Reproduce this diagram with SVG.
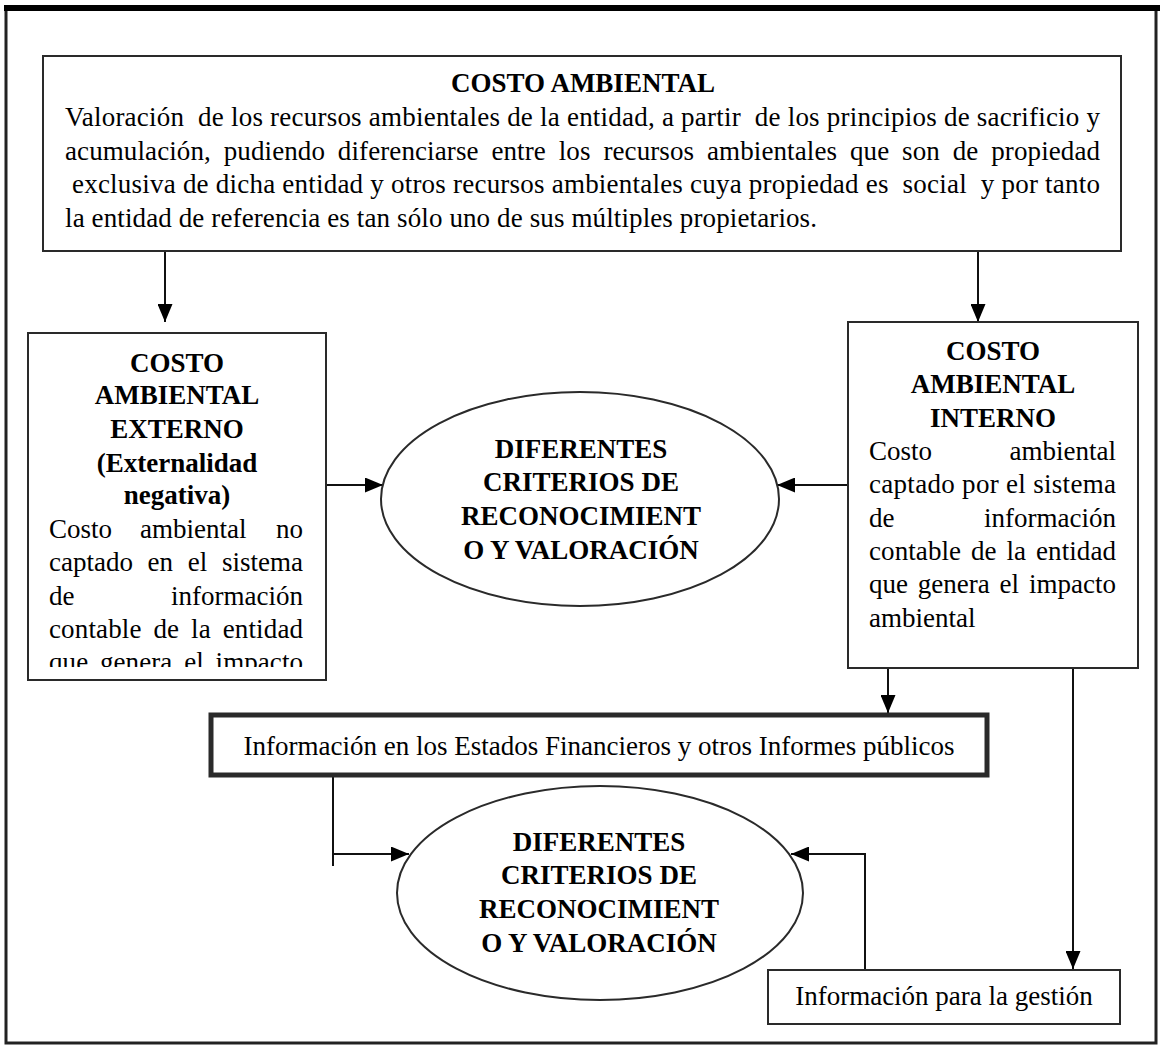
<svg xmlns="http://www.w3.org/2000/svg" width="1160" height="1048" viewBox="0 0 1160 1048">
<style>
.box{fill:#fff;stroke:#2a2a2a;stroke-width:2}
.thick{fill:#fff;stroke:#2a2a2a;stroke-width:5}
.ell{fill:#fff;stroke:#2a2a2a;stroke-width:2}
.t{font-family:"Liberation Serif","Times New Roman",serif;font-size:27px;fill:#000}
.b{font-weight:bold}
.c{text-anchor:middle}
.e{text-anchor:end}
.con{fill:none;stroke:#111;stroke-width:2}
</style>
<defs>
<marker id="ah" viewBox="0 0 18 15" refX="18" refY="7.5" markerWidth="18" markerHeight="15" orient="auto" markerUnits="userSpaceOnUse">
<path d="M0,0 L18,7.5 L0,15 z" fill="#000"/>
</marker>
<clipPath id="clipL"><rect x="28" y="333" width="298" height="334"/></clipPath>
</defs>
<rect width="1160" height="1048" fill="#fff"/>
<g id="frame">
<rect x="6" y="9" width="1150" height="1034" fill="none" stroke="#222" stroke-width="3"/>
<line x1="4" y1="8" x2="1160" y2="8" stroke="#000" stroke-width="6"/>
</g>
<g id="connectors">
<path class="con" d="M165,252 V322" marker-end="url(#ah)"/>
<path class="con" d="M978,252 V322" marker-end="url(#ah)"/>
<path class="con" d="M326,485 H383" marker-end="url(#ah)"/>
<path class="con" d="M848,485 H777" marker-end="url(#ah)"/>
<path class="con" d="M888,668 V713" marker-end="url(#ah)"/>
<path class="con" d="M1073,668 V969" marker-end="url(#ah)"/>
<path class="con" d="M333,776 V866"/>
<path class="con" d="M333,854 H409" marker-end="url(#ah)"/>
<path class="con" d="M865,970 V854 H791" marker-end="url(#ah)"/>
</g>
<g id="costo-ambiental">
<rect class="box" x="43" y="56" width="1078" height="195"/>
<text class="t b c" x="583" y="92">COSTO AMBIENTAL</text>
<text class="t" x="65" y="126" textLength="1035" lengthAdjust="spacing" xml:space="preserve">Valoración  de los recursos ambientales de la entidad, a partir  de los principios de sacrificio y</text>
<text class="t" x="65" y="160" textLength="1035" lengthAdjust="spacing" word-spacing="6">acumulación, pudiendo diferenciarse entre los recursos ambientales que son de propiedad</text>
<text class="t" x="72" y="193" textLength="1028" lengthAdjust="spacing" xml:space="preserve">exclusiva de dicha entidad y otros recursos ambientales cuya propiedad es  social  y por tanto</text>
<text class="t" x="65" y="227" textLength="752" lengthAdjust="spacing">la entidad de referencia es tan sólo uno de sus múltiples propietarios.</text>
</g>
<g id="costo-externo">
<rect class="box" x="28" y="333" width="298" height="347"/>
<g clip-path="url(#clipL)">
<text class="t b c" x="177" y="372">COSTO</text>
<text class="t b c" x="177" y="404">AMBIENTAL</text>
<text class="t b c" x="177" y="438">EXTERNO</text>
<text class="t b c" x="177" y="472">(Externalidad</text>
<text class="t b c" x="177" y="504">negativa)</text>
<text class="t" x="49" y="538">Costo</text>
<text class="t" x="140" y="538">ambiental</text>
<text class="t e" x="303" y="538">no</text>
<text class="t" x="49" y="571" textLength="254" lengthAdjust="spacing" word-spacing="8">captado en el sistema</text>
<text class="t" x="49" y="605">de</text>
<text class="t e" x="303" y="605">información</text>
<text class="t" x="49" y="638" textLength="254" lengthAdjust="spacing" word-spacing="5">contable de la entidad</text>
<text class="t" x="49" y="671" textLength="254" lengthAdjust="spacing" word-spacing="5">que genera el impacto</text>
</g>
</g>
<g id="costo-interno">
<rect class="box" x="848" y="322" width="290" height="346"/>
<text class="t b c" x="993" y="360">COSTO</text>
<text class="t b c" x="993" y="393">AMBIENTAL</text>
<text class="t b c" x="993" y="427">INTERNO</text>
<text class="t" x="869" y="460">Costo</text>
<text class="t e" x="1116" y="460">ambiental</text>
<text class="t" x="869" y="493" textLength="247" lengthAdjust="spacing">captado por el sistema</text>
<text class="t" x="869" y="527">de</text>
<text class="t e" x="1116" y="527">información</text>
<text class="t" x="869" y="560" textLength="247" lengthAdjust="spacing" word-spacing="3">contable de la entidad</text>
<text class="t" x="869" y="593" textLength="247" lengthAdjust="spacing" word-spacing="3">que genera el impacto</text>
<text class="t" x="869" y="627">ambiental</text>
</g>
<g id="criterios-1">
<ellipse class="ell" cx="580" cy="499" rx="199" ry="107"/>
<text class="t b c" x="581" y="458">DIFERENTES</text>
<text class="t b c" x="581" y="491">CRITERIOS DE</text>
<text class="t b c" x="581" y="525">RECONOCIMIENT</text>
<text class="t b c" x="581" y="559">O Y VALORACIÓN</text>
</g>
<g id="info-estados">
<rect class="thick" x="211" y="715" width="776" height="60"/>
<text class="t c" x="599" y="755">Información en los Estados Financieros y otros Informes públicos</text>
</g>
<g id="criterios-2">
<ellipse class="ell" cx="600" cy="893" rx="203" ry="107"/>
<text class="t b c" x="599" y="851">DIFERENTES</text>
<text class="t b c" x="599" y="884">CRITERIOS DE</text>
<text class="t b c" x="599" y="918">RECONOCIMIENT</text>
<text class="t b c" x="599" y="952">O Y VALORACIÓN</text>
</g>
<g id="info-gestion">
<rect class="box" x="768" y="970" width="352" height="54"/>
<text class="t c" x="944" y="1005">Información para la gestión</text>
</g>
</svg>
